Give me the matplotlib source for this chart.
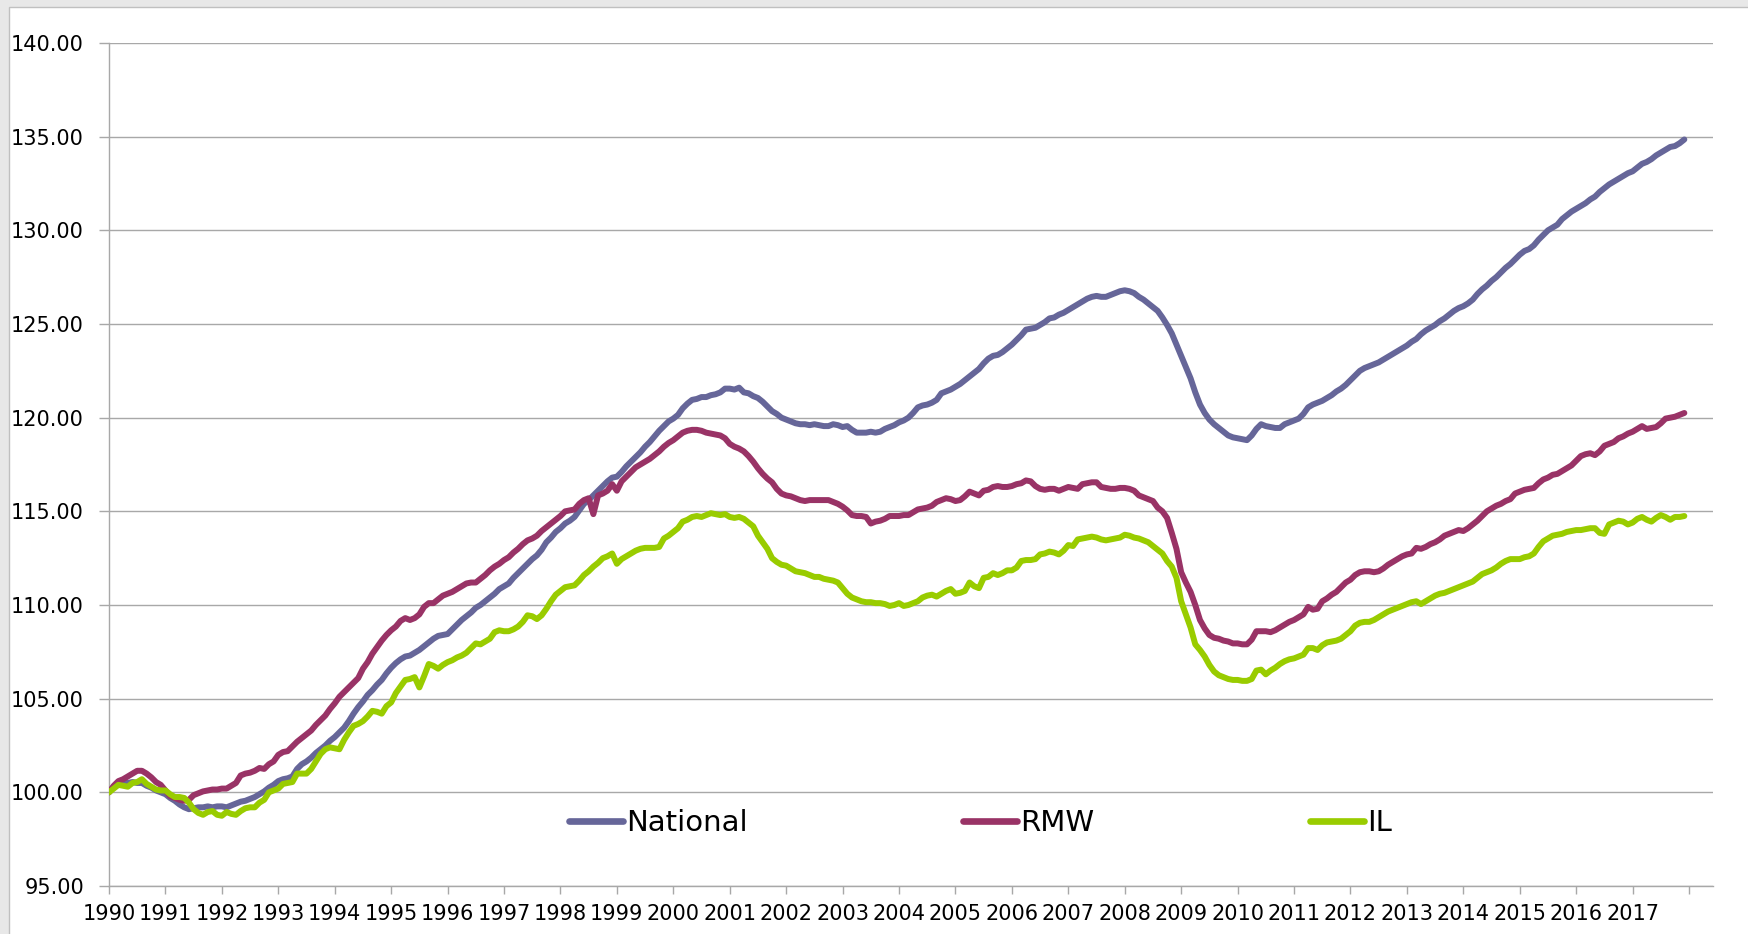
import numpy as np
import matplotlib
matplotlib.use("Agg")
import matplotlib.pyplot as plt
from matplotlib.patches import Rectangle

# monthly index values, Jan 1990 .. Dec 2017 (one row per year)
national = [
    100.0, 100.3, 100.45, 100.5, 100.5, 100.55, 100.5, 100.5, 100.35, 100.25, 100.1, 100.0,
    99.9, 99.7, 99.55, 99.35, 99.2, 99.1, 99.15, 99.2, 99.2, 99.25, 99.2, 99.25,
    99.25, 99.2, 99.3, 99.4, 99.5, 99.55, 99.65, 99.75, 99.9, 100.05, 100.25, 100.4,
    100.6, 100.7, 100.75, 100.85, 101.25, 101.5, 101.65, 101.85, 102.1, 102.3, 102.5, 102.75,
    102.95, 103.2, 103.45, 103.8, 104.2, 104.55, 104.85, 105.2, 105.45, 105.75, 106.0, 106.35,
    106.65, 106.9, 107.1, 107.25, 107.3, 107.45, 107.6, 107.8, 108.0, 108.2, 108.35, 108.4,
    108.45, 108.7, 108.95, 109.2, 109.4, 109.6, 109.85, 110.0, 110.2, 110.4, 110.6, 110.85,
    111.0, 111.15, 111.45, 111.7, 111.95, 112.2, 112.45, 112.65, 112.95, 113.35, 113.6, 113.9,
    114.1, 114.35, 114.5, 114.7, 115.05, 115.4, 115.6, 115.85, 116.1, 116.35, 116.6, 116.8,
    116.85, 117.1, 117.4, 117.65, 117.9, 118.15, 118.45, 118.7, 119.0, 119.3, 119.55, 119.8,
    119.95, 120.15, 120.5, 120.75, 120.95, 121.0, 121.1, 121.1, 121.2, 121.25, 121.35, 121.55,
    121.55, 121.5, 121.6, 121.35, 121.3, 121.15, 121.05, 120.85, 120.6, 120.35, 120.2, 120.0,
    119.9, 119.8, 119.7, 119.65, 119.65, 119.6, 119.65, 119.6, 119.55, 119.55, 119.65, 119.6,
    119.5, 119.55, 119.35, 119.2, 119.2, 119.2, 119.25, 119.2, 119.25, 119.4, 119.5, 119.6,
    119.75, 119.85, 120.0, 120.25, 120.55, 120.65, 120.7, 120.8, 120.95, 121.3, 121.4, 121.5,
    121.65, 121.8, 122.0, 122.2, 122.4, 122.6, 122.9, 123.15, 123.3, 123.35, 123.5, 123.7,
    123.9, 124.15, 124.4, 124.7, 124.75, 124.8, 124.95, 125.1, 125.3, 125.35, 125.5, 125.6,
    125.75, 125.9, 126.05, 126.2, 126.35, 126.45, 126.5, 126.45, 126.45, 126.55, 126.65, 126.75,
    126.8, 126.75, 126.65, 126.45, 126.3, 126.1, 125.9, 125.7, 125.35, 124.95, 124.5, 123.9,
    123.3, 122.7, 122.1, 121.35, 120.7, 120.25, 119.9, 119.65, 119.45, 119.25, 119.05, 118.95,
    118.9, 118.85, 118.8, 119.05, 119.4, 119.65, 119.55, 119.5, 119.45, 119.45, 119.65, 119.75,
    119.85, 119.95, 120.2, 120.55, 120.7, 120.8, 120.9, 121.05, 121.2, 121.4, 121.55, 121.75,
    122.0, 122.25, 122.5, 122.65, 122.75, 122.85, 122.95, 123.1, 123.25, 123.4, 123.55, 123.7,
    123.85, 124.05, 124.2, 124.45, 124.65, 124.8, 124.95, 125.15, 125.3, 125.5, 125.7, 125.85,
    125.95, 126.1, 126.3, 126.6, 126.85, 127.05, 127.3, 127.5, 127.75, 128.0, 128.2, 128.45,
    128.7, 128.9, 129.0, 129.2, 129.5, 129.75, 130.0, 130.15, 130.3, 130.6, 130.8, 131.0,
    131.15, 131.3, 131.45, 131.65, 131.8, 132.05, 132.25, 132.45, 132.6, 132.75, 132.9, 133.05,
    133.15, 133.35, 133.55, 133.65, 133.8, 134.0, 134.15, 134.3, 134.45, 134.5, 134.65, 134.85,
]

rmw = [
    100.0, 100.35, 100.6, 100.7, 100.85, 101.0, 101.15, 101.15, 101.0, 100.8, 100.55, 100.4,
    100.1, 99.8, 99.7, 99.6, 99.55, 99.6, 99.85, 99.95, 100.05, 100.1, 100.15, 100.15,
    100.2, 100.2, 100.35, 100.5, 100.9, 101.0, 101.05, 101.15, 101.3, 101.25, 101.5, 101.65,
    102.0, 102.15, 102.2, 102.45, 102.7, 102.9, 103.1, 103.3, 103.6, 103.85, 104.1, 104.45,
    104.75, 105.1, 105.35, 105.6, 105.85, 106.1, 106.6, 106.95, 107.4, 107.75, 108.1, 108.4,
    108.65, 108.85, 109.15, 109.3, 109.2, 109.3, 109.5, 109.9, 110.1, 110.1, 110.3, 110.5,
    110.6, 110.7, 110.85, 111.0, 111.15, 111.2, 111.2, 111.4, 111.6, 111.85, 112.05, 112.2,
    112.4, 112.55, 112.8, 113.0, 113.25, 113.45, 113.55, 113.7, 113.95, 114.15, 114.35, 114.55,
    114.75, 115.0, 115.05, 115.1, 115.4, 115.6, 115.7, 114.85, 115.85, 115.95, 116.1, 116.45,
    116.1, 116.6, 116.85, 117.1, 117.35, 117.5, 117.65, 117.8, 118.0, 118.2, 118.45, 118.65,
    118.8, 119.0, 119.2, 119.3, 119.35, 119.35, 119.3, 119.2, 119.15, 119.1, 119.05, 118.9,
    118.6, 118.45, 118.35, 118.2, 117.95, 117.65, 117.3, 117.0, 116.75, 116.55, 116.2, 115.95,
    115.85, 115.8, 115.7, 115.6, 115.55, 115.6, 115.6, 115.6, 115.6, 115.6, 115.5, 115.4,
    115.25, 115.05, 114.8, 114.75, 114.75, 114.7, 114.35, 114.45, 114.5, 114.6, 114.75, 114.75,
    114.75, 114.8, 114.8, 114.95, 115.1, 115.15, 115.2, 115.3, 115.5, 115.6, 115.7, 115.65,
    115.55, 115.6, 115.8, 116.05, 115.95, 115.85, 116.1, 116.15, 116.3, 116.35, 116.3, 116.3,
    116.35, 116.45, 116.5, 116.65, 116.6, 116.35, 116.2, 116.15, 116.2, 116.2, 116.1, 116.2,
    116.3, 116.25, 116.2, 116.45, 116.5, 116.55, 116.55, 116.3, 116.25, 116.2, 116.2, 116.25,
    116.25, 116.2, 116.1, 115.85, 115.75, 115.65, 115.55, 115.2, 115.0, 114.65, 113.85, 113.0,
    111.75, 111.2, 110.7, 110.0, 109.2, 108.75, 108.4, 108.25, 108.2, 108.1, 108.05, 107.95,
    107.95, 107.9, 107.9, 108.15, 108.6, 108.6, 108.6, 108.55, 108.65, 108.8, 108.95, 109.1,
    109.2, 109.35, 109.5, 109.9, 109.75, 109.8, 110.2, 110.35, 110.55, 110.7, 110.95, 111.2,
    111.35, 111.6, 111.75, 111.8, 111.8, 111.75, 111.8, 111.95, 112.15, 112.3, 112.45, 112.6,
    112.7, 112.75, 113.05, 113.0, 113.1, 113.25, 113.35, 113.5, 113.7, 113.8, 113.9, 114.0,
    113.95, 114.1, 114.3, 114.5, 114.75, 115.0, 115.15, 115.3, 115.4, 115.55, 115.65, 115.95,
    116.05, 116.15, 116.2, 116.25, 116.5, 116.7, 116.8, 116.95, 117.0, 117.15, 117.3, 117.45,
    117.7, 117.95, 118.05, 118.1, 118.0, 118.2, 118.5, 118.6, 118.7, 118.9, 119.0, 119.15,
    119.25, 119.4, 119.55, 119.4, 119.45, 119.5, 119.7, 119.95, 120.0, 120.05, 120.15, 120.25,
]

il = [
    100.0, 100.2, 100.4, 100.35, 100.3, 100.5, 100.55, 100.7, 100.45, 100.3, 100.15, 100.1,
    100.1, 99.9, 99.75, 99.75, 99.7, 99.45, 99.1, 98.9, 98.8, 98.95, 99.0, 98.8,
    98.75, 98.95, 98.85, 98.8, 99.0, 99.15, 99.2, 99.2, 99.45, 99.6, 100.0, 100.1,
    100.2, 100.45, 100.5, 100.55, 101.0, 101.0, 101.0, 101.25, 101.65, 102.05, 102.3, 102.4,
    102.35, 102.3, 102.8, 103.2, 103.55, 103.65, 103.8, 104.05, 104.35, 104.3, 104.2, 104.6,
    104.8, 105.3, 105.65, 106.0, 106.05, 106.15, 105.6, 106.2, 106.85, 106.75, 106.6, 106.8,
    106.95, 107.05, 107.2, 107.3, 107.45, 107.7, 107.95, 107.9, 108.05, 108.2, 108.55, 108.65,
    108.6, 108.6, 108.7, 108.85, 109.1, 109.45, 109.4, 109.25, 109.45, 109.8, 110.2, 110.55,
    110.75, 110.95, 111.0, 111.05, 111.3, 111.6, 111.8, 112.05, 112.25, 112.5, 112.6, 112.75,
    112.2, 112.45, 112.6, 112.75, 112.9, 113.0, 113.05, 113.05, 113.05, 113.1, 113.55, 113.7,
    113.9, 114.1, 114.45, 114.55, 114.7, 114.75, 114.7, 114.8, 114.9, 114.85, 114.8, 114.85,
    114.7, 114.65, 114.7, 114.6, 114.4, 114.2, 113.7, 113.35, 113.0, 112.5, 112.3, 112.15,
    112.1, 111.95, 111.8, 111.75, 111.7, 111.6, 111.5, 111.5, 111.4, 111.35, 111.3, 111.2,
    110.9, 110.6, 110.4, 110.3, 110.2, 110.15, 110.15, 110.1, 110.1, 110.05, 109.95, 110.0,
    110.1, 109.95, 110.0, 110.1, 110.2, 110.4, 110.5, 110.55, 110.45, 110.6, 110.75, 110.85,
    110.6, 110.65, 110.75, 111.2, 111.0, 110.9, 111.45, 111.5, 111.7, 111.6, 111.7, 111.85,
    111.85, 112.0, 112.35, 112.4, 112.4, 112.45, 112.7, 112.75, 112.85, 112.8, 112.7, 112.9,
    113.2, 113.15, 113.5, 113.55, 113.6, 113.65, 113.6, 113.5, 113.45, 113.5, 113.55, 113.6,
    113.75, 113.7, 113.6, 113.55, 113.45, 113.35, 113.15, 112.95, 112.75, 112.35, 112.05, 111.45,
    110.2, 109.5, 108.8, 107.9, 107.6, 107.25, 106.8, 106.45, 106.25, 106.15, 106.05, 106.0,
    106.0, 105.95, 105.95, 106.05, 106.5, 106.55, 106.3, 106.5, 106.65, 106.85, 107.0, 107.1,
    107.15, 107.25, 107.35, 107.7, 107.7, 107.6, 107.85, 108.0, 108.05, 108.1, 108.2, 108.4,
    108.6, 108.9, 109.05, 109.1, 109.1, 109.2, 109.35, 109.5, 109.65, 109.75, 109.85, 109.95,
    110.05, 110.15, 110.2, 110.05, 110.2, 110.35, 110.5, 110.6, 110.65, 110.75, 110.85, 110.95,
    111.05, 111.15, 111.25, 111.45, 111.65, 111.75, 111.85, 112.0, 112.2, 112.35, 112.45, 112.45,
    112.45, 112.55, 112.6, 112.75, 113.1, 113.4, 113.55, 113.7, 113.75, 113.8, 113.9, 113.95,
    114.0, 114.0, 114.05, 114.1, 114.1, 113.85, 113.8, 114.3, 114.4, 114.5, 114.45, 114.3,
    114.4, 114.6, 114.7, 114.55, 114.45, 114.65, 114.8, 114.7, 114.55, 114.7, 114.7, 114.75,
]

series_names = ["National", "RMW", "IL"]
series_colors = ["#666699", "#993366", "#99CC00"]
years = list(range(1990, 2019))
year_labels = [str(y) for y in range(1990, 2018)] + [""]
y_ticks = [95, 100, 105, 110, 115, 120, 125, 130, 135, 140]

start_year = 1990
t = start_year + np.arange(len(national)) / 12.0

fig = plt.figure(figsize=(17.49, 9.34), dpi=100)
fig.patch.set_facecolor("#E8E8E8")
# white chart area with the thin grey frame of the Excel chart
fig.patches.append(Rectangle((9 / 1749, -0.01), 1.0, 1 - 7 / 934 + 0.01,
                             transform=fig.transFigure, facecolor="white",
                             edgecolor="#C0C0C0", linewidth=1.0, zorder=-10))

ax = fig.add_axes([109 / 1749, 48 / 934, 1604 / 1749, 843 / 934])
ax.set_facecolor("none")

for vals, name, col in zip([national, rmw, il], series_names, series_colors):
    ax.plot(t, vals, color=col, lw=4.3, label=name, solid_joinstyle="round",
            solid_capstyle="round", zorder=3)

ax.set_xlim(1990, 1990 + 1604 / 56.43)
ax.set_ylim(95, 140)
ax.set_yticks(y_ticks)
ax.set_yticklabels([f"{v:.2f}" for v in y_ticks])
ax.set_xticks(years)
ax.set_xticklabels(year_labels)

ax.grid(axis="y", color="#A8A8A8", lw=1.0, zorder=1)
ax.set_axisbelow(True)
for s in ["top", "right"]:
    ax.spines[s].set_visible(False)
for s in ["left", "bottom"]:
    ax.spines[s].set_color("#A8A8A8")
    ax.spines[s].set_linewidth(1.0)

ax.tick_params(axis="y", length=7, width=1, color="#A8A8A8", pad=11,
               labelsize=15, labelcolor="black")
ax.tick_params(axis="x", length=6, width=1, color="#A8A8A8", pad=7,
               labelsize=15, labelcolor="black")

leg = ax.legend(ncol=3, loc="center left", bbox_to_anchor=(0.2868, 0.0747),
                frameon=False, fontsize=21, handlelength=1.85,
                handletextpad=0.1, columnspacing=7.4, borderpad=0,
                borderaxespad=0)
for h in leg.get_lines():
    h.set_linewidth(4.8)

fig.savefig("out.png", dpi=100, facecolor=fig.get_facecolor())
